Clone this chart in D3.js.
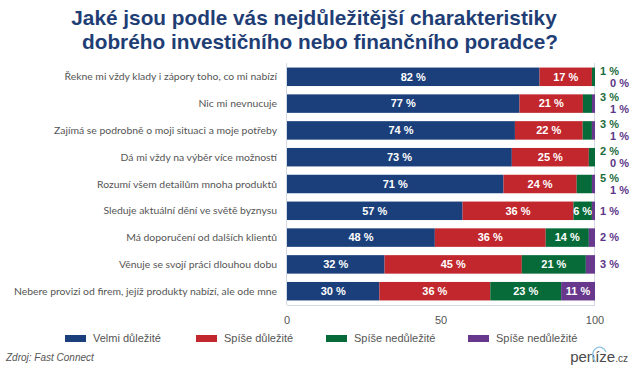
<!DOCTYPE html>
<html>
<head>
<meta charset="utf-8">
<script src="https://cdn.jsdelivr.net/npm/d3@7"></script>
<style>
  body { margin: 0; background: #fff; }
  svg { display: block; }
</style>
</head>
<body>
<script>
// Data
const categories = [
  "Řekne mi vždy klady i zápory toho, co mi nabízí",
  "Nic mi nevnucuje",
  "Zajímá se podrobně o moji situaci a moje potřeby",
  "Dá mi vždy na výběr více možností",
  "Rozumí všem detailům mnoha produktů",
  "Sleduje aktuální dění ve světě byznysu",
  "Má doporučení od dalších klientů",
  "Věnuje se svojí práci dlouhou dobu",
  "Nebere provizi od firem, jejíž produkty nabízí, ale ode mne"
];
const velmi = [82, 77, 74, 73, 71, 57, 48, 32, 30];
const spise = [17, 21, 22, 25, 24, 36, 36, 45, 36];
const spiseNe = [1, 3, 3, 2, 5, 6, 14, 21, 23];
const zcelaNe = [0, 1, 1, 0, 1, 1, 2, 3, 11];
const seriesNames = ["Velmi důležité", "Spíše důležité", "Spíše nedůležité", "Spíše nedůležité"];
const xTicks = [0, 50, 100];

const colors = ["#1b3f7b", "#c1272d", "#076a39", "#67388c"];
const labelColors = [null, null, "#1d6b3c", "#5d3588"];

const W = 640, H = 370;
const svg = d3.select("body").append("svg")
  .attr("width", W)
  .attr("height", H);

// Title
const title = svg.append("text")
  .attr("text-anchor", "middle")
  .attr("fill", "#1f3e75")
  .style("font-family", "'Liberation Sans', Arial, sans-serif")
  .style("font-weight", "bold")
  .style("font-size", "20.8px");
title.append("tspan").attr("x", 314).attr("y", 25)
  .text("Jaké jsou podle vás nejdůležitější charakteristiky");
title.append("tspan").attr("x", 320).attr("y", 49)
  .text("dobrého investičního nebo finančního poradce?");

// Scales (rows are shown as shares of 100 %)
const x = d3.scaleLinear().domain([0, 100]).range([287, 595]);
const y = d3.scaleBand().domain(categories).range([63, 305])
  .paddingInner(0.31).paddingOuter(0.17);

// Frame lines
svg.append("line")
  .attr("x1", x(0) - 0.5).attr("x2", x(0) - 0.5)
  .attr("y1", 63).attr("y2", 305)
  .attr("stroke", "#d3dae4").attr("stroke-width", 1);
svg.append("line")
  .attr("x1", x(100) - 0.5).attr("x2", x(100) - 0.5)
  .attr("y1", 63).attr("y2", 305)
  .attr("stroke", "#d3dae4").attr("stroke-width", 1);
svg.append("line")
  .attr("x1", x(0)).attr("x2", x(100))
  .attr("y1", 305.5).attr("y2", 305.5)
  .attr("stroke", "#d3dae4").attr("stroke-width", 1);

// Stack the series, normalised so every row fills 0..100
const rows = categories.map((c, i) => ({
  cat: c,
  vals: [velmi[i], spise[i], spiseNe[i], zcelaNe[i]]
}));
const stacked = d3.stack()
  .keys([0, 1, 2, 3])
  .value((d, k) => d.vals[k])
  .offset(d3.stackOffsetExpand)(rows);
stacked.forEach(s => s.forEach(d => { d[0] *= 100; d[1] *= 100; }));

const groups = svg.selectAll(".series")
  .data(stacked)
  .enter()
  .append("g")
  .attr("class", "series")
  .attr("fill", (d, i) => colors[i]);

groups.selectAll("rect")
  .data(d => d)
  .enter()
  .append("rect")
  .attr("x", d => x(d[0]))
  .attr("y", d => y(d.data.cat))
  .attr("width", d => Math.max(0, x(d[1]) - x(d[0])))
  .attr("height", y.bandwidth());

// Row labels
svg.append("g")
  .selectAll("text")
  .data(categories)
  .enter()
  .append("text")
  .attr("x", 277)
  .attr("y", d => y(d) + y.bandwidth() / 2)
  .attr("dy", "0.35em")
  .attr("text-anchor", "end")
  .attr("fill", "#555")
  .style("font-family", "Lato, 'Noto Sans', sans-serif")
  .style("font-size", "10.4px")
  .text(d => d);

// Value labels
const lbl = svg.append("g")
  .style("font-family", "'Liberation Sans', Arial, sans-serif")
  .style("font-weight", "bold")
  .style("font-size", "11px");

stacked.forEach((s, k) => {
  s.forEach((d, i) => {
    const v = d.data.vals[k];
    const w = x(d[1]) - x(d[0]);
    const cy = y(d.data.cat) + y.bandwidth() / 2;
    if (w >= 17) {
      lbl.append("text")
        .attr("x", (x(d[0]) + x(d[1])) / 2)
        .attr("y", cy)
        .attr("dy", "0.35em")
        .attr("text-anchor", "middle")
        .attr("fill", "#fff")
        .text(v + " %");
    } else {
      const greenW = x(stacked[2][i][1]) - x(stacked[2][i][0]);
      let tx = 600, ty = cy;
      if (greenW < 17) {
        if (k === 2) { ty = cy - 6; }
        else { tx = 610; ty = cy + 6; }
      }
      lbl.append("text")
        .attr("x", tx)
        .attr("y", ty)
        .attr("dy", "0.35em")
        .attr("fill", labelColors[k])
        .text(v + " %");
    }
  });
});

// Axis tick labels
svg.append("g")
  .selectAll("text")
  .data(xTicks)
  .enter()
  .append("text")
  .attr("x", d => x(d))
  .attr("y", 324)
  .attr("text-anchor", "middle")
  .attr("fill", "#555")
  .style("font-family", "'Liberation Sans', Arial, sans-serif")
  .style("font-size", "11px")
  .text(d => d);

// Legend
const legendX = [65, 196, 326, 468];
const legend = svg.append("g");
seriesNames.forEach((n, i) => {
  legend.append("rect")
    .attr("x", legendX[i]).attr("y", 335)
    .attr("width", 21).attr("height", 7)
    .attr("fill", colors[i]);
  legend.append("text")
    .attr("x", legendX[i] + 28).attr("y", 338.5)
    .attr("dy", "0.35em")
    .attr("fill", "#555")
    .style("font-family", "'Liberation Sans', Arial, sans-serif")
    .style("font-size", "11px")
    .text(n);
});

// Source
svg.append("text")
  .attr("x", 6).attr("y", 361)
  .attr("fill", "#555")
  .style("font-family", "'Liberation Sans', Arial, sans-serif")
  .style("font-style", "italic")
  .style("font-size", "10px")
  .text("Zdroj: Fast Connect");

// Logo
const logo = svg.append("text")
  .attr("x", 628).attr("y", 362)
  .attr("text-anchor", "end")
  .attr("fill", "#4a4a4a")
  .style("font-family", "'Liberation Sans Narrow', 'Liberation Sans', Arial, sans-serif")
  .style("font-size", "15px");
logo.append("tspan").text("peníze");
logo.append("tspan").style("font-size", "10px").text(".cz");
svg.append("path")
  .attr("d", "M596,362 a7,8 0 1,1 10,-10")
  .attr("fill", "none")
  .attr("stroke", "#8fc3e0")
  .attr("stroke-width", 1.2);
</script>
</body>
</html>
